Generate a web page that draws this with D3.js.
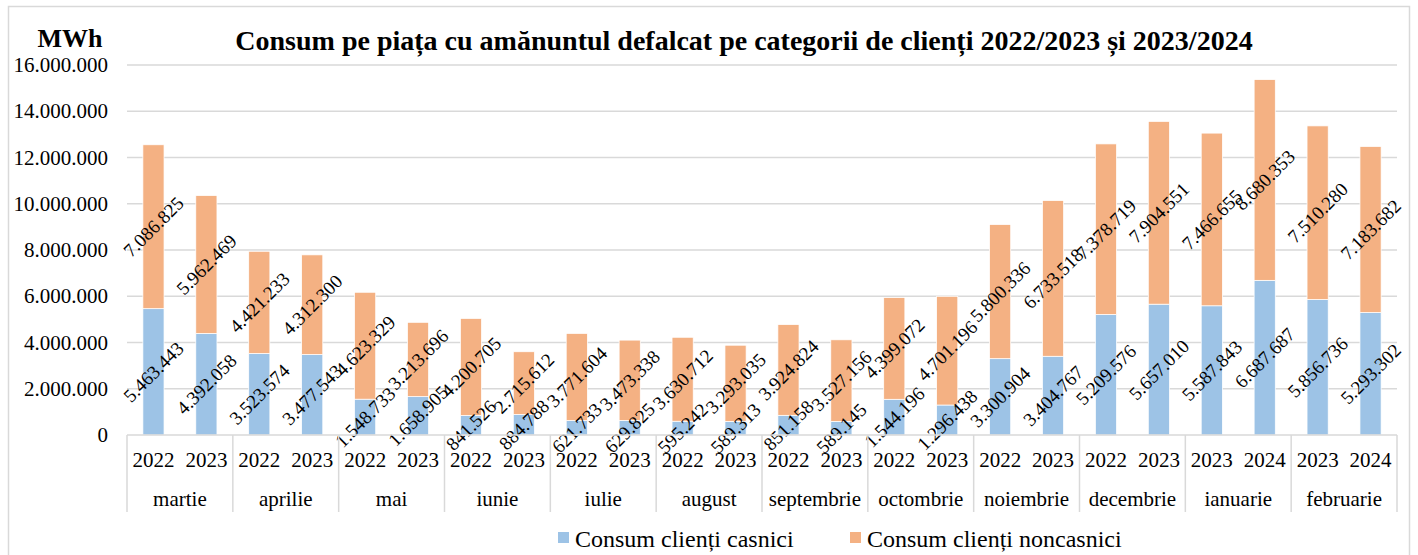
<!DOCTYPE html>
<html>
<head>
<meta charset="utf-8">
<script src="https://cdn.jsdelivr.net/npm/d3@7"></script>
<style>
  body { margin: 0; background: #fff; }
  svg text { font-family: "Liberation Serif", "Times New Roman", serif; fill: #000; }
</style>
</head>
<body>
<svg id="chart" width="1418" height="555"></svg>
<script>
// months (outer category level) and the two years shown under each one
const months = ['martie', 'aprilie', 'mai', 'iunie', 'iulie', 'august', 'septembrie',
  'octombrie', 'noiembrie', 'decembrie', 'ianuarie', 'februarie'];
const years = [
  ['2022', '2023'], ['2022', '2023'], ['2022', '2023'], ['2022', '2023'],
  ['2022', '2023'], ['2022', '2023'], ['2022', '2023'], ['2022', '2023'],
  ['2022', '2023'], ['2022', '2023'], ['2023', '2024'], ['2023', '2024'],
];

// MWh, one pair per month: [first year, second year]
const casnici = [
  [5463443, 4392058], [3523574, 3477543], [1548733, 1658905], [841526, 884788],
  [621733, 629825], [595242, 589313], [851158, 589145], [1544196, 1296438],
  [3300904, 3404767], [5209576, 5657010], [5587843, 6687687], [5856736, 5293302],
];
const noncasnici = [
  [7086825, 5962469], [4421233, 4312300], [4623329, 3213696], [4200705, 2715612],
  [3771604, 3473338], [3630712, 3293035], [3924824, 3527156], [4399072, 4701196],
  [5800336, 6733518], [7378719, 7904551], [7466655, 8680353], [7510280, 7183682],
];

const yTicks = [0, 2000000, 4000000, 6000000, 8000000, 10000000, 12000000, 14000000, 16000000];

const seriesNames = ['Consum clienți casnici', 'Consum clienți noncasnici'];
const colors = ['#9dc3e6', '#f4b183'];

const ro = d3.formatLocale({ decimal: ',', thousands: '.', grouping: [3], currency: ['', ''] });
const fmt = ro.format(',d');

const margin = { top: 65, left: 127, right: 21, bottom: 120 };
const W = 1418, H = 555;

const svg = d3.select('#chart');

// outer chart border
svg.append('rect')
  .attr('x', 8.5).attr('y', 6.5)
  .attr('width', 1401).attr('height', 560)
  .attr('fill', 'none')
  .attr('stroke', '#d9d9d9')
  .attr('stroke-width', 1.5);

const x0 = d3.scaleBand().domain(months).range([margin.left, W - margin.right]);
const x1 = d3.scaleBand().domain([0, 1]).range([0, x0.bandwidth()])
  .paddingInner(0.6).paddingOuter(0.3);
const y = d3.scaleLinear().domain([0, 16000000]).range([H - margin.bottom, margin.top]);

// gridlines + y labels
const yAxis = svg.append('g');
yAxis.selectAll('line')
  .data(yTicks.slice(1))
  .enter()
  .append('line')
  .attr('x1', margin.left).attr('x2', W - margin.right)
  .attr('y1', d => y(d)).attr('y2', d => y(d))
  .attr('stroke', '#d9d9d9')
  .attr('stroke-width', 1.5);

yAxis.selectAll('text')
  .data(yTicks)
  .enter()
  .append('text')
  .attr('x', 108)
  .attr('y', d => y(d) + 7)
  .attr('text-anchor', 'end')
  .style('font-size', '21px')
  .text(d => fmt(d));

// build the stacked rows
const rows = [];
months.forEach((m, i) => {
  [0, 1].forEach(j => {
    const c = casnici[i][j];
    const n = noncasnici[i][j];
    rows.push({ month: m, j, segs: [[0, c, c], [c, c + n, n]] });
  });
});

const gBars = svg.append('g');
const bar = gBars.selectAll('.bar')
  .data(rows)
  .enter()
  .append('g')
  .attr('class', 'bar')
  .attr('transform', d => `translate(${x0(d.month) + x1(d.j)},0)`);

bar.selectAll('rect')
  .data(d => d.segs)
  .enter()
  .append('rect')
  .attr('x', 0)
  .attr('width', x1.bandwidth())
  .attr('y', d => y(d[1]))
  .attr('height', d => y(d[0]) - y(d[1]))
  .attr('fill', (d, k) => colors[k])
  .attr('stroke', '#fff')
  .attr('stroke-width', 0.75);

// rotated value labels in the middle of each segment
bar.selectAll('text')
  .data(d => d.segs)
  .enter()
  .append('text')
  .attr('transform', d => `translate(${x1.bandwidth() / 2},${y((d[0] + d[1]) / 2)}) rotate(-45)`)
  .attr('text-anchor', 'middle')
  .attr('dy', '0.35em')
  .style('font-size', '19px')
  .text(d => fmt(d[2]));

// category axis (two levels)
const zeroY = y(0);
const gX = svg.append('g');
gX.append('line')
  .attr('x1', margin.left).attr('x2', W - margin.right)
  .attr('y1', zeroY).attr('y2', zeroY)
  .attr('stroke', '#d9d9d9').attr('stroke-width', 1.5);

const bounds = months.map(m => x0(m)).concat([W - margin.right]);
gX.selectAll('.div')
  .data(bounds)
  .enter()
  .append('line')
  .attr('class', 'div')
  .attr('x1', d => d).attr('x2', d => d)
  .attr('y1', zeroY).attr('y2', 512)
  .attr('stroke', '#d9d9d9').attr('stroke-width', 1.5);

gX.selectAll('.yr')
  .data(rows)
  .enter()
  .append('text')
  .attr('class', 'yr')
  .attr('x', d => x0(d.month) + x1(d.j) + x1.bandwidth() / 2)
  .attr('y', 467)
  .attr('text-anchor', 'middle')
  .style('font-size', '21px')
  .text(d => years[months.indexOf(d.month)][d.j]);

gX.selectAll('.mo')
  .data(months)
  .enter()
  .append('text')
  .attr('class', 'mo')
  .attr('x', d => x0(d) + x0.bandwidth() / 2)
  .attr('y', 506)
  .attr('text-anchor', 'middle')
  .style('font-size', '21px')
  .text(d => d);

// titles
svg.append('text')
  .attr('x', 70).attr('y', 47)
  .attr('text-anchor', 'middle')
  .style('font-size', '26px').style('font-weight', 'bold')
  .text('MWh');

svg.append('text')
  .attr('x', 744).attr('y', 50)
  .attr('text-anchor', 'middle')
  .style('font-size', '28px').style('font-weight', 'bold')
  .text('Consum pe piața cu amănuntul defalcat pe categorii de clienți 2022/2023 și 2023/2024');

// legend
const legendX = [558, 850];
const legend = svg.append('g');
const item = legend.selectAll('g')
  .data(seriesNames)
  .enter()
  .append('g')
  .attr('transform', (d, i) => `translate(${legendX[i]},532)`);
item.append('rect')
  .attr('width', 11).attr('height', 11)
  .attr('fill', (d, i) => colors[i]);
item.append('text')
  .attr('x', 17).attr('y', 15)
  .style('font-size', '24px')
  .text(d => d);
</script>
</body>
</html>
